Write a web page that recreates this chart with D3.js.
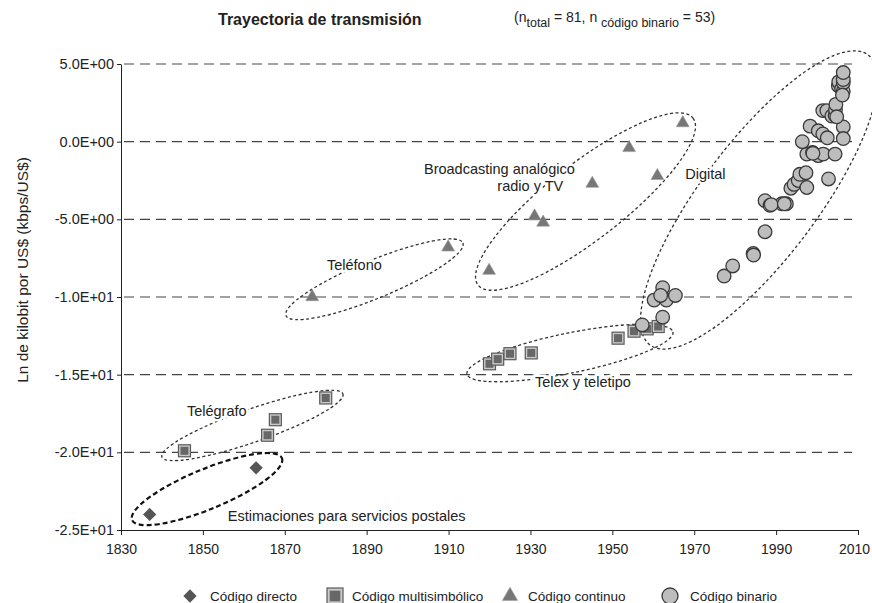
<!DOCTYPE html>
<html>
<head>
<meta charset="utf-8">
<script src="https://cdn.jsdelivr.net/npm/d3@7"></script>
<style>
  body { margin: 0; background: #fff; }
  svg text { font-family: "Liberation Sans", Arial, Helvetica, sans-serif; fill: #222; }
  .axis path, .axis line { stroke: #222; }
</style>
</head>
<body>
<svg id="chart" width="872" height="603"></svg>
<script>
/*
	Data
*/
var xTicks = [1830, 1850, 1870, 1890, 1910, 1930, 1950, 1970, 1990, 2010];
var yTicks = [5, 0, -5, -10, -15, -20, -25];

// Código directo (servicios postales)
var directo = [[1837, -24.0], [1863, -21.0]];

// Código multisimbólico (telégrafo, telex y teletipo)
var multisimbolico = [
	[1845.5, -19.9], [1865.8, -18.9], [1867.7, -17.9], [1880, -16.5],
	[1920, -14.3], [1922, -14.0], [1925, -13.65], [1930.2, -13.6],
	[1951.4, -12.65], [1955.3, -12.2], [1958.5, -12.05], [1961.2, -11.9]
];

// Código continuo (teléfono, broadcasting)
var continuo = [
	[1876.7, -10.0], [1909.9, -6.8], [1919.9, -8.3], [1931, -4.8],
	[1933.1, -5.2], [1945.1, -2.7], [1954.1, -0.4], [1961, -2.2], [1967.2, 1.2]
];

// Código binario (digital)
var binario = [
	[1957.3, -11.8], [1962.3, -11.3], [1960.2, -10.2], [1963.2, -10.2],
	[1962.3, -9.4], [1965.4, -9.9], [1961.8, -9.9], [1977.3, -8.65],
	[1979.4, -8.0], [1984.4, -7.2], [1984.5, -7.3], [1987.3, -5.8],
	[1987.3, -3.8], [1988.5, -4.1], [1991.4, -4.0], [1992.5, -4.0],
	[1993.6, -3.0], [1994.4, -2.75], [1995.4, -2.5], [1995.8, -2.1],
	[1997.3, -2.0], [1997.5, -2.95], [2002.8, -2.4], [1997.5, -0.8],
	[1998.9, -0.7], [2000.3, -0.9], [2001.5, -0.8], [2004.4, -0.8],
	[1996.4, 0.0], [1998.3, 1.0], [2000.3, 0.7], [2001.4, 0.5],
	[2002.5, 0.25], [2006.4, 0.95], [2006.4, 0.2], [2001.4, 2.0],
	[2002.4, 2.0], [2003.6, 1.65], [2004.4, 1.7], [2004.5, 2.05],
	[2004.6, 2.4], [2005.2, 3.6], [2005.3, 3.85], [2006.0, 3.4],
	[2006.4, 3.25], [2006.4, 3.8], [2006.4, 4.0], [2006.4, 4.45],
	[2006.2, 3.0], [1988.8, -4.05], [1992.0, -4.0], [1999.0, -0.75],
	[2004.8, 1.6]
];

// grupos anotados: extremos del eje mayor [año, valor]
var groups = [
	{ label: "postal", a: [1832.7, -24.36], b: [1869.3, -20.37] },
	{ label: "telegrafo", a: [1840.0, -20.30], b: [1884.2, -16.24] },
	{ label: "telefono", a: [1870.3, -11.2], b: [1913.5, -6.52] },
	{ label: "broadcasting", a: [1917.2, -9.23], b: [1969.7, 1.52] },
	{ label: "digital", a: [1959.2, -13.09], b: [2012.5, 5.58] },
	{ label: "telex", a: [1914.5, -14.96], b: [1964.8, -12.25] }
];

var legendItems = ["Código directo", "Código multisimbólico", "Código continuo", "Código binario"];

/*
	Setup
*/
var svg = d3.select("#chart");

var x = d3.scaleLinear().domain([1830, 2010]).range([121, 858]);
var y = d3.scaleLinear().domain([-25, 5]).range([530, 64]);

function fmtE(v) {
	if (v === 0) return "0.0E+00";
	var e = Math.floor(Math.log10(Math.abs(v)));
	var m = v / Math.pow(10, e);
	var ae = Math.abs(e);
	return m.toFixed(1) + "E" + (e < 0 ? "-" : "+") + (ae < 10 ? "0" : "") + ae;
}

/*
	Gridlines
*/
svg.append("g")
	.selectAll("line")
	.data(yTicks.filter(function(d) { return d > -25; }))
	.enter()
	.append("line")
	.attr("x1", x(1830) + 3)
	.attr("x2", 852)
	.attr("y1", function(d) { return y(d); })
	.attr("y2", function(d) { return y(d); })
	.attr("stroke", "#444")
	.attr("stroke-width", 1.1)
	.attr("stroke-dasharray", "10,6");

/*
	Axes
*/
var gx = svg.append("g")
	.attr("class", "axis")
	.attr("transform", "translate(0," + y(-25) + ")")
	.call(d3.axisBottom(x).tickValues(xTicks).tickSize(5).tickSizeOuter(0).tickPadding(9).tickFormat(d3.format("d")));
gx.selectAll("text")
	.style("font-size", "14px")
	.attr("dx", function(d) { return d === 2010 ? -4 : 0; });

var gy = svg.append("g")
	.attr("class", "axis")
	.attr("transform", "translate(" + x(1830) + ",0)")
	.call(d3.axisLeft(y).tickValues(yTicks).tickSize(4).tickSizeOuter(0).tickPadding(3).tickFormat(fmtE));
gy.selectAll("text").style("font-size", "14.5px");

svg.append("text")
	.attr("transform", "translate(28,270) rotate(-90)")
	.attr("text-anchor", "middle")
	.style("font-size", "15.5px")
	.text("Ln de kilobit por US$ (kbps/US$)");

/*
	Group ellipses
*/
var minor = { postal: 20, telegrafo: 16.5, telefono: 19, broadcasting: 38, digital: 58, telex: 20 };

svg.append("g")
	.selectAll("ellipse")
	.data(groups)
	.enter()
	.append("ellipse")
	.each(function(d) {
		var x1 = x(d.a[0]), y1 = y(d.a[1]), x2 = x(d.b[0]), y2 = y(d.b[1]);
		var cx = (x1 + x2) / 2, cy = (y1 + y2) / 2;
		var ang = Math.atan2(y2 - y1, x2 - x1) * 180 / Math.PI;
		var rx = Math.sqrt((x2 - x1) * (x2 - x1) + (y2 - y1) * (y2 - y1)) / 2;
		var postal = d.label === "postal";
		d3.select(this)
			.attr("cx", 0).attr("cy", 0)
			.attr("rx", rx).attr("ry", minor[d.label])
			.attr("transform", "translate(" + cx + "," + cy + ") rotate(" + ang + ")")
			.attr("fill", "none")
			.attr("stroke", postal ? "#111" : "#333")
			.attr("stroke-width", postal ? 2.2 : 1.3)
			.attr("stroke-dasharray", postal ? "5,3" : "3,2.5");
	});

/*
	Group labels (white halo interrupts the dashed outline)
*/
var labels = [
	{ t: "Telégrafo", yr: 1846.1, v: -17.66, anchor: "start" },
	{ t: "Estimaciones para servicios postales", yr: 1856.1, v: -24.42, anchor: "start" },
	{ t: "Teléfono", yr: 1880.3, v: -8.26, anchor: "start" },
	{ t: "Broadcasting analógico", yr: 1904.0, v: -2.08, anchor: "start" },
	{ t: "radio y TV", yr: 1938.0, v: -3.18, anchor: "end" },
	{ t: "Digital", yr: 1967.8, v: -2.4, anchor: "start" },
	{ t: "Telex y teletipo", yr: 1931.1, v: -15.79, anchor: "start" }
];

svg.append("g")
	.selectAll("text")
	.data(labels)
	.enter()
	.append("text")
	.attr("x", function(d) { return x(d.yr); })
	.attr("y", function(d) { return y(d.v); })
	.attr("text-anchor", function(d) { return d.anchor; })
	.attr("stroke", "#fff")
	.attr("stroke-width", 5)
	.attr("paint-order", "stroke")
	.style("font-size", "14.5px")
	.text(function(d) { return d.t; });

/*
	Markers
*/
function drawSquare(g, cx, cy, s) {
	s = s || 12;
	g.append("rect")
		.attr("x", cx - s / 2).attr("y", cy - s / 2)
		.attr("width", s).attr("height", s)
		.attr("fill", "#c9c9c9")
		.attr("stroke", "#5a5a5a")
		.attr("stroke-width", 1.2);
	g.append("rect")
		.attr("x", cx - s / 3).attr("y", cy - s / 3)
		.attr("width", s * 2 / 3).attr("height", s * 2 / 3)
		.attr("fill", "#676767");
}
function drawTriangle(g, cx, cy, s) {
	g.append("path")
		.attr("d", d3.symbol().type(d3.symbolTriangle).size(s || 72)())
		.attr("transform", "translate(" + cx + "," + cy + ")")
		.attr("fill", "#777")
		.attr("stroke", "#999")
		.attr("stroke-width", 0.6);
}
function drawDiamond(g, cx, cy, s) {
	g.append("path")
		.attr("d", d3.symbol().type(d3.symbolSquare).size(s || 88)())
		.attr("transform", "translate(" + cx + "," + cy + ") rotate(45)")
		.attr("fill", "#555");
}
function drawCircle(g, cx, cy, s) {
	g.append("circle")
		.attr("cx", cx).attr("cy", cy)
		.attr("r", s || 6.8)
		.attr("fill", "#bdbdbd")
		.attr("stroke", "#3a3a3a")
		.attr("stroke-width", 1.3);
}

var marks = svg.append("g");
multisimbolico.forEach(function(d) { drawSquare(marks, x(d[0]), y(d[1])); });
continuo.forEach(function(d) { drawTriangle(marks, x(d[0]), y(d[1])); });
directo.forEach(function(d) { drawDiamond(marks, x(d[0]), y(d[1])); });
binario.forEach(function(d) { drawCircle(marks, x(d[0]), y(d[1])); });

/*
	Legend
*/
var legendX = [190, 335, 510, 670];
var legendGap = [20, 17, 18, 20];
var legendSize = [88, 16, 100, 8];
var drawers = [drawDiamond, drawSquare, drawTriangle, drawCircle];
var legend = svg.append("g");
legendItems.forEach(function(t, i) {
	drawers[i](legend, legendX[i], 596, legendSize[i]);
	legend.append("text")
		.attr("x", legendX[i] + legendGap[i])
		.attr("y", 601)
		.style("font-size", "13.5px")
		.text(t);
});

/*
	Title
*/
svg.append("text")
	.attr("x", 218)
	.attr("y", 25)
	.style("font-size", "16px")
	.style("font-weight", "bold")
	.text("Trayectoria de transmisión");

var note = svg.append("text")
	.attr("x", 514)
	.attr("y", 22)
	.style("font-size", "14px");
note.append("tspan").text("(n");
note.append("tspan").attr("dy", 5).style("font-size", "12.5px").text("total");
note.append("tspan").attr("dy", -5).text(" = 81, n ");
note.append("tspan").attr("dy", 5).style("font-size", "12.5px").text("código binario");
note.append("tspan").attr("dy", -5).text(" = 53)");
</script>
</body>
</html>
